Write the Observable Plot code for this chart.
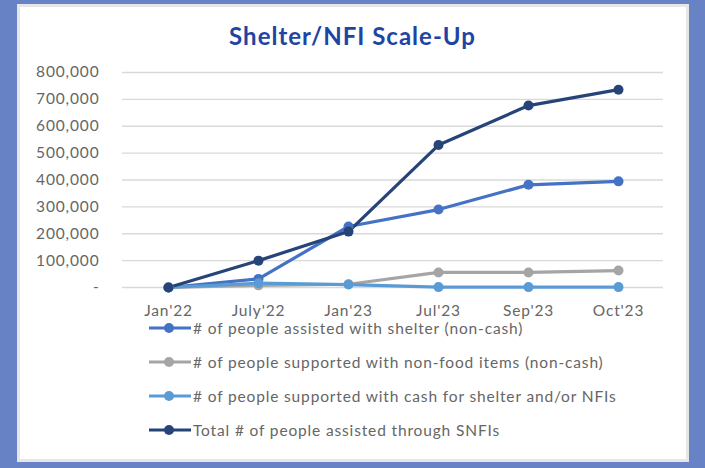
<!DOCTYPE html>
<html>
<head>
<meta charset="utf-8">
<script src="https://cdn.jsdelivr.net/npm/d3@7"></script>
<script src="https://cdn.jsdelivr.net/npm/@observablehq/plot@0.6"></script>
<style>
  html, body { margin: 0; padding: 0; }
  body { width: 705px; height: 468px; background: #6783c6; position: relative; overflow: hidden; font-family: Lato, "Open Sans", sans-serif; }
  #panel { position: absolute; left: 17px; top: 4px; width: 672px; height: 458px; background: #fff; box-sizing: border-box; border: 3px solid #e6e6e6; }
  #title { position: absolute; left: 0; width: 705px; top: 21px; text-align: center; font-size: 24px; font-weight: bold; letter-spacing: 1px; color: #1f45a3; }
  #chart { position: absolute; left: 0; top: 0; }
  .leg { position: absolute; left: 148px; height: 20px; display: flex; align-items: center; font-size: 15.5px; letter-spacing: 0.85px; color: #666; white-space: nowrap; }
  .leg svg { margin-right: 1px; }
</style>
</head>
<body>
<div id="panel"></div>
<div id="title">Shelter/NFI Scale-Up</div>
<div id="chart"></div>
<div id="legend"></div>
<script>
const months = ["Jan'22", "July'22", "Jan'23", "Jul'23", "Sep'23", "Oct'23"];
const seriesNames = [
  "# of people assisted with shelter (non-cash)",
  "# of people supported with non-food items (non-cash)",
  "# of people supported with cash for shelter and/or NFIs",
  "Total # of people assisted through SNFIs"
];
const shelter = [0, 32000, 227000, 290000, 382000, 395000];
const nfi = [0, 8000, 12000, 56000, 56000, 63000];
const cash = [0, 16000, 11000, 1500, 1500, 1500];
const total = [0, 100000, 208000, 530000, 677000, 736000];
const colors = ["#4472c4", "#a5a5a5", "#5b9bd5", "#264478"];
const yTicks = [0, 100000, 200000, 300000, 400000, 500000, 600000, 700000, 800000];

const allSeries = [shelter, nfi, cash, total];
const rows = [];
allSeries.forEach((vals, si) => vals.forEach((v, i) => rows.push({series: seriesNames[si], month: months[i], value: v})));

const chart = Plot.plot({
  width: 705,
  height: 330,
  marginLeft: 122,
  marginRight: 42,
  marginTop: 72,
  marginBottom: 43,
  style: {fontFamily: "Lato, 'Open Sans', sans-serif", fontSize: "15.5px", letterSpacing: "0.85px", color: "#666", background: "transparent"},
  x: {type: "point", domain: months, padding: 0.5, label: null},
  y: {domain: [0, 800000], label: null},
  color: {domain: seriesNames, range: colors},
  marks: [
    Plot.gridY(yTicks, {stroke: "#d9d9d9", strokeOpacity: 1, strokeWidth: 1.3}),
    Plot.axisY(yTicks, {tickSize: 0, tickPadding: 23, label: null, tickFormat: d => d === 0 ? "-" : d3.format(",")(d), fill: "#666"}),
    Plot.axisX({tickSize: 0, tickPadding: 17, label: null, fill: "#666"}),
    Plot.line(rows, {x: "month", y: "value", z: "series", stroke: "series", strokeWidth: 3.2}),
    Plot.dot(rows, {x: "month", y: "value", fill: "series", r: 5})
  ]
});
document.getElementById("chart").appendChild(chart);

const legend = document.getElementById("legend");
const legY = [318, 352, 386, 420];
seriesNames.forEach((name, i) => {
  const d = document.createElement("div");
  d.className = "leg";
  d.style.top = legY[i] + "px";
  d.innerHTML = `<svg width="44" height="20"><line x1="1" y1="10" x2="43" y2="10" stroke="${colors[i]}" stroke-width="3.2"/><circle cx="21" cy="10" r="5" fill="${colors[i]}"/></svg><span>${name}</span>`;
  legend.appendChild(d);
});
</script>
</body>
</html>
